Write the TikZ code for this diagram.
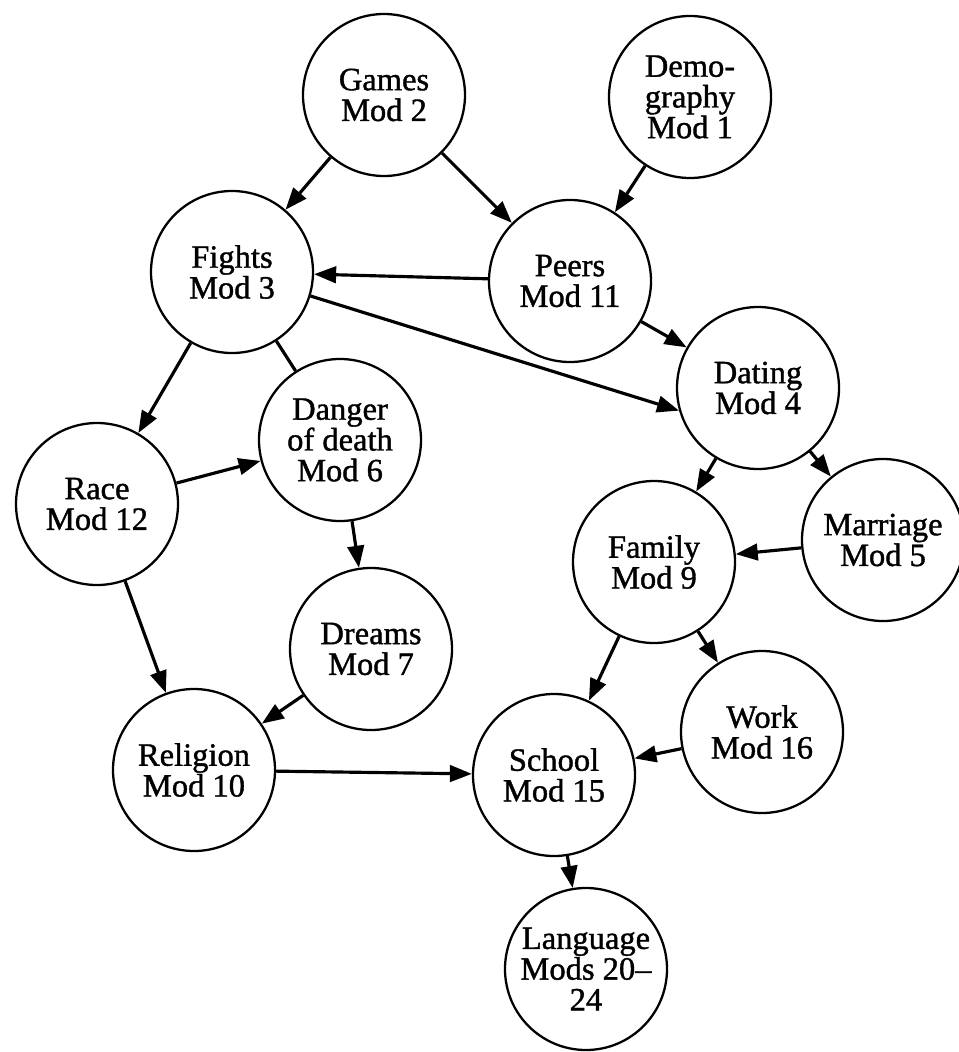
\documentclass[tikz,border=0pt]{standalone}
\usepackage{fontspec}
\setmainfont{Liberation Serif}[FakeBold=1.2]
\usepackage{tikz}
\usetikzlibrary{arrows.meta,shapes,positioning}
\tikzstyle{topic} = [circle, draw, line width=1.3pt, minimum size=3.24cm, inner sep=0pt, align=center, font=\fontsize{18.5}{17.5}\selectfont]
\tikzstyle{arrow} = [line width=1.8pt, -{Triangle[length=4.4mm,width=3.3mm]}]
\tikzstyle{link} = [line width=1.8pt]

\begin{document}
\begin{tikzpicture}
\useasboundingbox (0,0) rectangle (19.16,-21.04);
\node[topic] (games) at (7.68,-1.90) {Games\\Mod 2};
\node[topic] (demog) at (13.80,-1.94) {Demo-\\graphy\\Mod 1};
\node[topic] (fights) at (4.64,-5.44) {Fights\\Mod 3};
\node[topic] (peers) at (11.40,-5.62) {Peers\\Mod 11};
\node[topic] (dating) at (15.16,-7.76) {Dating\\Mod 4};
\node[topic] (danger) at (6.80,-8.80) {Danger\\of death\\Mod 6};
\node[topic] (race) at (1.94,-10.08) {Race\\Mod 12};
\node[topic] (family) at (13.08,-11.24) {Family\\Mod 9};
\node[topic] (marriage) at (17.66,-10.80) {Marriage\\Mod 5};
\node[topic] (dreams) at (7.42,-12.98) {Dreams\\Mod 7};
\node[topic] (religion) at (3.88,-15.40) {Religion\\Mod 10};
\node[topic] (work) at (15.24,-14.64) {Work\\Mod 16};
\node[topic] (school) at (11.08,-15.50) {School\\Mod 15};
\node[topic] (lang) at (11.72,-19.38) {Language\\Mods 20--\\24};

\draw[arrow] (games) -- (fights);
\draw[arrow] (games) -- (peers);
\draw[arrow] (demog) -- (peers);
\draw[arrow] (peers) -- (fights);
\draw[arrow] (peers) -- (dating);
\draw[arrow] (fights.-17) -- (dating.-164);
\draw[arrow] (fights) -- (race);
\draw[link] (fights) -- (danger);
\draw[arrow] (race) -- (danger);
\draw[arrow] (race) -- (religion);
\draw[arrow] (danger) -- (dreams);
\draw[arrow] (dreams) -- (religion);
\draw[arrow] (religion) -- (school);
\draw[arrow] (dating) -- (family);
\draw[arrow] (dating) -- (marriage);
\draw[arrow] (marriage) -- (family);
\draw[arrow] (family) -- (school);
\draw[arrow] (family) -- (work);
\draw[arrow] (work) -- (school);
\draw[arrow] (school) -- (lang);
\end{tikzpicture}
\end{document}
